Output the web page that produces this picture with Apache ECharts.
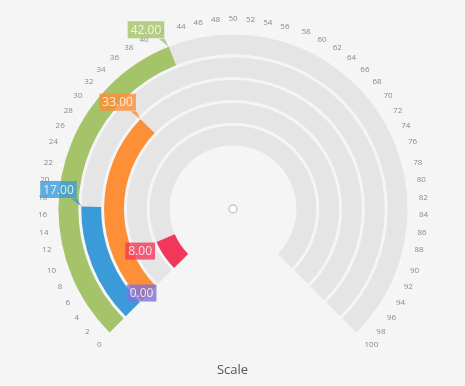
<!DOCTYPE html>
<html>
<head>
<meta charset="utf-8">
<script src="https://cdn.jsdelivr.net/npm/echarts@6/dist/echarts.min.js"></script>
<style>
html,body{margin:0;padding:0;background:#f5f5f5;}
#chart{width:465px;height:386px;}
</style>
</head>
<body>
<div id="chart"></div>
<script>
// Data (inner ring first)
const rings = ['Ring 1', 'Ring 2', 'Ring 3', 'Ring 4', 'Ring 5'];
const values = [8, 0, 33, 17, 42];
const colors = ['#f2385a', '#8070d8', '#fd8f36', '#3b9bd9', '#a5c46a'];
const scaleMin = 0;
const scaleMax = 100;
const scaleStep = 2;
const titleText = 'Scale';

const CENTER = [233, 209];
const RADIUS = [62, 176];
const BAND_FRAC = 0.87;
const START = 225, END = -45;

const chart = echarts.init(document.getElementById('chart'));

const angleOf = v => START - (START - END) * (v - scaleMin) / (scaleMax - scaleMin);

const labelData = values.map((v, i) => {
  const below = angleOf(v) > 180;
  return {
    value: [i + 0.5 + BAND_FRAC / 2, v],
    label: {
      show: true,
      position: below ? [-1, 1] : [-4, -8],
      align: 'right',
      verticalAlign: below ? 'top' : 'bottom',
      backgroundColor: colors[i]
    }
  };
});
const pointerData = values.map((v, i) => {
  const below = angleOf(v) > 180;
  return {
    value: [i + 0.5 + BAND_FRAC / 2, v],
    symbolSize: below ? 0 : [10, 8],
    itemStyle: { color: colors[i] }
  };
});

chart.setOption({
  backgroundColor: '#f5f5f5',
  animation: false,
  title: {
    text: titleText,
    left: 'center',
    top: 359,
    textStyle: { fontFamily: 'Open Sans', fontSize: 13, fontWeight: 'normal', color: '#555' }
  },
  polar: [
    { center: CENTER, radius: RADIUS },
    { center: CENTER, radius: RADIUS }
  ],
  angleAxis: [
    {
      polarIndex: 0, type: 'value', min: scaleMin, max: scaleMax, interval: scaleStep,
      startAngle: START, endAngle: END, clockwise: true,
      axisLine: { show: false },
      splitLine: { show: false },
      axisTick: { show: true, length: 3, lineStyle: { color: '#ffffff', width: 1 } },
      axisLabel: { show: true, margin: 10, fontSize: 8, color: '#8a8a8a', fontFamily: 'Open Sans' }
    },
    {
      polarIndex: 1, type: 'value', min: scaleMin, max: scaleMax,
      startAngle: START, endAngle: END, clockwise: true,
      show: false
    }
  ],
  radiusAxis: [
    {
      polarIndex: 0, type: 'category', data: rings,
      axisLine: { show: false }, axisTick: { show: false }, axisLabel: { show: false },
      splitLine: { show: false }
    },
    {
      polarIndex: 1, type: 'value', min: 0, max: rings.length, show: false
    }
  ],
  series: [
    {
      type: 'bar', coordinateSystem: 'polar', polarIndex: 0,
      data: rings.map(() => scaleMax),
      barCategoryGap: ((1 - BAND_FRAC) * 100) + '%',
      barGap: '-100%',
      itemStyle: { color: '#e5e5e5' },
      silent: true, z: 1
    },
    {
      type: 'bar', coordinateSystem: 'polar', polarIndex: 0,
      data: values.map((v, i) => ({ value: v, itemStyle: { color: colors[i] } })),
      barCategoryGap: ((1 - BAND_FRAC) * 100) + '%',
      barGap: '-100%',
      z: 2
    },
    {
      type: 'scatter', coordinateSystem: 'polar', polarIndex: 1,
      symbol: 'path://M0,0 L6,0 L10,8 Z',
      symbolOffset: [-5, -4],
      symbolKeepAspect: false,
      data: pointerData,
      z: 5
    },
    {
      type: 'scatter', coordinateSystem: 'polar', polarIndex: 1,
      symbolSize: 1,
      itemStyle: { color: 'rgba(0,0,0,0)' },
      label: {
        show: true,
        formatter: p => p.value[1].toFixed(2),
        color: '#fff', fontSize: 12, fontFamily: 'Open Sans',
        padding: [2, 3, 1, 3], lineHeight: 14
      },
      data: labelData,
      z: 6
    }
  ],
  graphic: [
    {
      type: 'circle', shape: { cx: CENTER[0], cy: CENTER[1], r: 4 },
      style: { fill: '#fff', stroke: '#c8c8c8', lineWidth: 1.5 }
    }
  ]
});
</script>
</body>
</html>
